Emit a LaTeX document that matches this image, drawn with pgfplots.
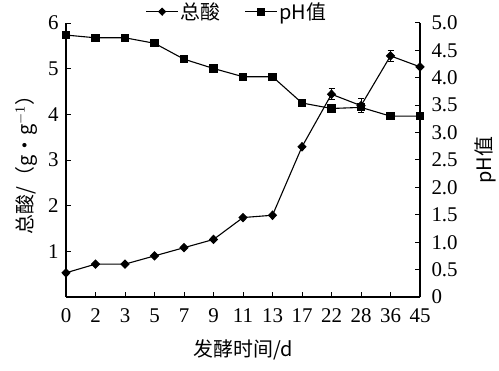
\documentclass[border=0pt]{standalone}
\usepackage{pgfplots}
\pgfplotsset{compat=1.18}
\usepackage{fontspec}
\setmainfont{Liberation Serif}
\newfontfamily\cjk{Noto Sans CJK SC}
\begin{document}
\begin{tikzpicture}
\pgfplotsset{
  common/.style={
    width=354bp, height=274bp, scale only axis,
    xmin=0, xmax=12,
    tick align=inside,
    major tick length=5bp,
    tick style={line width=1bp, black},
    tick label style={font=\fontsize{21}{24}\selectfont},
    label style={font=\fontsize{20}{24}\selectfont},
  }
}
\begin{axis}[common, name=main,
  axis x line*=bottom, axis y line*=left,
  axis line style={line width=1.1bp},
  ymin=0, ymax=6,
  xtick={0,...,12},
  xticklabels={0,2,3,5,7,9,11,13,17,22,28,36,45},
  xticklabel style={yshift=-8bp},
  ytick={1,2,3,4,5,6},
  yticklabels={1,2,3,4,5,6},
  yticklabel style={xshift=-4bp},
  xlabel={\cjk 发酵时间/d},
  ylabel={\cjk 总酸/（g•g$^{\mathrm{-1}}$）},
  xlabel style={yshift=-10bp},
  ylabel style={yshift=4bp},
]
\addplot[black, line width=1.1bp, mark=diamond*, mark size=4bp,
  mark options={solid, fill=black, xscale=1.3},
  error bars/.cd, y dir=both, y explicit,
  error mark options={rotate=90, mark size=3bp, line width=0.9bp}]
coordinates {
 (0,0.53) (1,0.72) (2,0.72) (3,0.90) (4,1.08) (5,1.26) (6,1.74)
 (7,1.79) (8,3.29) (9,4.44) +- (0,0.12) (10,4.19) +- (0,0.15) (11,5.28) +- (0,0.12) (12,5.04)
};
\end{axis}
\begin{axis}[common,
  axis y line*=right, axis x line=none,
  axis line style={line width=1.1bp},
  ymin=0, ymax=5,
  ytick={0,0.5,1,1.5,2,2.5,3,3.5,4,4.5,5},
  yticklabels={0,0.5,1.0,1.5,2.0,2.5,3.0,3.5,4.0,4.5,5.0},
  yticklabel style={xshift=8bp},
  ylabel={\cjk pH值},
  ylabel style={yshift=-10bp},
  legend columns=2,
  legend style={at={(0.5,1)}, anchor=south, draw=none, fill=none, xshift=-6bp,
    font=\fontsize{20}{22}\cjk, inner sep=0pt,
    /tikz/every even column/.append style={column sep=22bp}},
  legend image code/.code={\draw[#1, mark repeat=2, mark phase=2]
    plot coordinates {(0bp,0bp) (16bp,0bp) (32bp,0bp)};},
]
\addlegendimage{black, line width=1.1bp, mark=diamond*, mark size=3.4bp, mark options={solid, fill=black, xscale=1.3}}
\addlegendentry{总酸}
\addplot[black, line width=1.1bp, mark=square*, mark size=3.5bp,
  mark options={solid, fill=black},
  error bars/.cd, y dir=both, y explicit,
  error mark options={rotate=90, mark size=3bp, line width=0.9bp}]
coordinates {
 (0,4.78) (1,4.73) +- (0,0.07) (2,4.73) (3,4.63) (4,4.34) (5,4.17) (6,4.02)
 (7,4.02) (8,3.54) (9,3.44) (10,3.46) (11,3.30) (12,3.30)
};
\addlegendentry{pH值}
\end{axis}
\pgfresetboundingbox
\path[use as bounding box] ([shift={(-66bp,-74bp)}]main.south west) rectangle ([shift={(79bp,23bp)}]main.north east);
\end{tikzpicture}
\end{document}
